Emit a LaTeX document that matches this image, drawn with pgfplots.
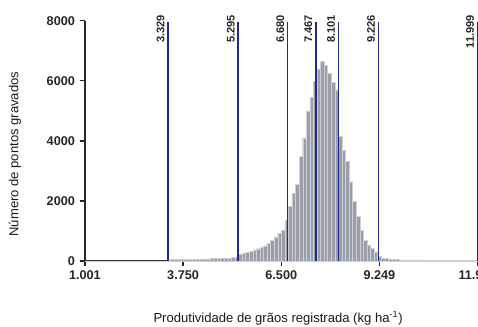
\documentclass[border=0pt]{standalone}
\usepackage{fontspec}
\setmainfont{Liberation Sans}
\usepackage{pgfplots}
\pgfplotsset{compat=1.18}
\definecolor{bargray}{RGB}{155,159,168}
\definecolor{barline}{RGB}{205,208,212}
\definecolor{vline}{RGB}{35,38,150}
\pgfplotstableread{
x y
1.0 8
3.3 40
3.4 50
3.5 55
3.6 55
3.7 60
3.8 60
3.9 65
4.0 65
4.1 70
4.2 70
4.3 75
4.4 75
4.5 80
4.6 85
4.7 85
4.8 90
4.9 95
5.0 100
5.1 115
5.2 140
5.3 220
5.4 260
5.5 290
5.6 330
5.7 370
5.8 410
5.9 450
6.0 510
6.1 590
6.2 700
6.3 800
6.4 930
6.5 1030
6.6 1370
6.7 1810
6.8 2260
6.9 2550
7.0 3480
7.1 4100
7.2 5000
7.3 5450
7.4 5980
7.5 6400
7.6 6640
7.7 6520
7.8 6250
7.9 5950
8.0 5700
8.1 4150
8.2 3700
8.3 3310
8.4 2640
8.5 1980
8.6 1480
8.7 1030
8.8 700
8.9 520
9.0 420
9.1 310
9.2 150
9.3 100
9.4 80
9.5 60
9.6 50
9.7 45
9.8 40
10.0 35
10.5 25
11.0 20
11.5 15
12.0 0
}\histdata
\begin{document}
\begin{tikzpicture}
\begin{axis}[
  name=ax,
  scale only axis,
  width=294.5pt, height=180.2pt,
  xmin=1.001, xmax=12.0, ymin=0, ymax=8000,
  axis x line=bottom, axis y line=left,
  axis line style={-, line width=1.3pt, black!85},
  clip=false,
  tick align=outside,
  major tick length=4pt,
  every tick/.style={black!85, line width=1pt},
  xtick={1.001,3.750,6.500,9.249,11.998},
  xticklabels={1.001,3.750,6.500,9.249,11.998},
  ytick={0,2000,4000,6000,8000},
  yticklabels={0,2000,4000,6000,8000},
  tick label style={font=\bfseries\fontsize{9.5}{10}\selectfont, black!85},
  xlabel={Produtividade de grãos registrada (kg ha\textsuperscript{-1})},
  ylabel={Número de pontos gravados},
  label style={font=\fontsize{9.8}{11}\selectfont, black!90},
  xlabel style={at={(axis description cs:0.492,-0.237)}, anchor=center},
  ylabel style={at={(axis description cs:-0.178,0.445)}, anchor=center},
]
\addplot[ybar interval, fill=bargray, draw=barline, line width=0.25pt] table[x=x,y=y] {\histdata};
\pgfplotsinvokeforeach{3.329,5.295,6.680,7.467,8.101,9.226,11.999}{
  \addplot[draw=vline, line width=1.2pt, forget plot] coordinates {(#1,0) (#1,7960)};
}
\foreach \v/\t in {3.329/3.329,5.295/5.295,6.680/6.680,7.467/7.467,8.101/8.101,9.226/9.226,11.999/11.999}{
  \edef\tmp{\noexpand\node[xshift=-1.8pt, rotate=90, anchor=south east, inner sep=0.6pt, font=\noexpand\bfseries\noexpand\fontsize{8.3}{9}\noexpand\selectfont, black!85] at (axis cs:\v,8230) {\t};}
  \tmp
}
\end{axis}
\pgfresetboundingbox
\path[use as bounding box] (ax.south west) ++(-63.7pt,-48.75pt) rectangle ++(358.5pt,244.5pt);
\end{tikzpicture}
\end{document}
